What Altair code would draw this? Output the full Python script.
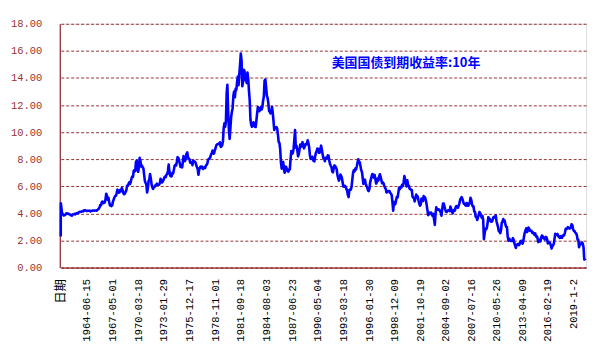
import altair as alt
import pandas as pd

# ---- data (10y US Treasury yield, %) ----
start_dates = ["1962-01-02", "1962-01-05"]
start_values = [2.3, 4.75]

first_month = "1962-01"
yield_monthly = [
    4.08, 4.04, 3.93, 3.84, 3.87, 3.91, 4.01, 3.98, 3.98, 3.93, 3.92, 3.86,  # 1962
    3.83, 3.92, 3.93, 3.97, 3.93, 3.99, 4.02, 4.00, 4.08, 4.11, 4.12, 4.13,  # 1963
    4.17, 4.15, 4.22, 4.23, 4.20, 4.17, 4.19, 4.19, 4.20, 4.19, 4.15, 4.18,  # 1964
    4.19, 4.21, 4.21, 4.20, 4.21, 4.21, 4.20, 4.25, 4.29, 4.35, 4.45, 4.62,  # 1965
    4.61, 4.83, 4.87, 4.75, 4.78, 4.81, 5.02, 5.45, 5.30, 5.01, 5.16, 4.84,  # 1966
    4.58, 4.63, 4.54, 4.59, 4.85, 5.02, 5.16, 5.28, 5.30, 5.48, 5.75, 5.70,  # 1967
    5.53, 5.56, 5.74, 5.64, 5.87, 5.72, 5.50, 5.42, 5.46, 5.58, 5.70, 6.03,  # 1968
    6.04, 6.19, 6.30, 6.17, 6.32, 6.57, 6.72, 6.69, 7.16, 7.10, 7.14, 7.80,  # 1969
    7.90, 7.24, 7.07, 7.39, 8.10, 7.90, 7.46, 7.53, 7.39, 7.33, 6.84, 6.39,  # 1970
    6.24, 6.11, 5.55, 5.83, 6.39, 6.52, 6.90, 6.58, 6.14, 5.93, 5.81, 5.93,  # 1971
    5.95, 6.08, 6.07, 6.19, 6.13, 6.11, 6.11, 6.21, 6.55, 6.48, 6.28, 6.36,  # 1972
    6.46, 6.64, 6.71, 6.67, 6.85, 6.90, 7.13, 7.60, 7.09, 6.79, 6.73, 6.74,  # 1973
    6.99, 6.96, 7.21, 7.51, 7.58, 7.54, 7.81, 8.15, 8.10, 7.90, 7.68, 7.43,  # 1974
    7.50, 7.39, 7.73, 8.23, 8.06, 7.86, 8.06, 8.40, 8.50, 8.14, 8.05, 8.00,  # 1975
    7.74, 7.79, 7.73, 7.56, 7.90, 7.86, 7.83, 7.77, 7.59, 7.41, 7.29, 6.85,  # 1976
    7.21, 7.39, 7.46, 7.37, 7.46, 7.28, 7.33, 7.40, 7.34, 7.52, 7.58, 7.69,  # 1977
    7.96, 8.03, 8.04, 8.15, 8.35, 8.46, 8.64, 8.41, 8.42, 8.64, 8.81, 9.01,  # 1978
    9.10, 9.10, 9.12, 9.18, 9.25, 8.91, 8.95, 9.03, 9.33, 10.30, 10.65, 10.39,  # 1979
    10.80, 12.90, 13.50, 11.50, 10.20, 9.50, 10.25, 11.10, 11.51, 11.75, 12.68, 13.00,  # 1980
    12.57, 13.19, 13.12, 13.68, 14.10, 13.47, 14.28, 14.94, 15.80, 15.30, 13.39, 13.72,  # 1981
    14.60, 14.50, 13.86, 13.87, 13.62, 14.40, 13.95, 13.06, 12.34, 10.91, 10.55, 10.40,  # 1982
    10.46, 10.72, 10.51, 10.40, 10.38, 10.85, 11.38, 11.85, 11.65, 11.54, 11.69, 11.83,  # 1983
    11.67, 11.84, 12.32, 12.63, 13.80, 13.90, 13.36, 12.72, 12.52, 12.16, 11.57, 11.50,  # 1984
    11.38, 11.51, 11.86, 11.43, 10.85, 10.16, 10.31, 10.33, 10.37, 10.24, 9.78, 9.26,  # 1985
    9.19, 8.70, 7.78, 7.30, 7.71, 7.80, 7.30, 7.00, 7.45, 7.43, 7.25, 7.11,  # 1986
    7.08, 7.25, 7.25, 8.02, 8.61, 8.40, 8.45, 8.76, 9.42, 10.15, 8.86, 8.99,  # 1987
    8.67, 8.21, 8.37, 8.72, 9.09, 8.92, 9.06, 9.26, 8.98, 8.80, 8.96, 9.11,  # 1988
    9.09, 9.17, 9.40, 9.18, 8.86, 8.28, 8.02, 8.11, 8.19, 8.01, 7.87, 7.84,  # 1989
    8.21, 8.47, 8.59, 8.79, 8.76, 8.48, 8.47, 8.75, 9.00, 8.72, 8.39, 8.08,  # 1990
    8.09, 7.85, 8.11, 8.04, 8.07, 8.28, 8.27, 7.90, 7.65, 7.53, 7.42, 7.09,  # 1991
    7.03, 7.34, 7.54, 7.48, 7.39, 7.26, 6.84, 6.59, 6.42, 6.59, 6.87, 6.77,  # 1992
    6.60, 6.26, 5.98, 5.97, 6.04, 5.96, 5.81, 5.68, 5.36, 5.20, 5.72, 5.77,  # 1993
    5.75, 5.97, 6.48, 6.97, 7.18, 7.10, 7.30, 7.24, 7.46, 7.74, 8.00, 7.81,  # 1994
    7.78, 7.47, 7.20, 7.06, 6.63, 6.17, 6.28, 6.49, 6.20, 6.04, 5.93, 5.71,  # 1995
    5.65, 5.81, 6.27, 6.51, 6.74, 6.91, 6.87, 6.64, 6.83, 6.53, 6.20, 6.30,  # 1996
    6.58, 6.42, 6.69, 6.89, 6.71, 6.49, 6.22, 6.30, 6.21, 6.03, 5.88, 5.81,  # 1997
    5.54, 5.57, 5.65, 5.64, 5.65, 5.50, 5.46, 5.34, 4.81, 4.20, 4.83, 4.65,  # 1998
    4.72, 5.00, 5.23, 5.18, 5.54, 5.90, 5.79, 5.94, 5.92, 6.11, 6.03, 6.28,  # 1999
    6.75, 6.52, 6.26, 5.99, 6.44, 6.10, 6.05, 5.83, 5.80, 5.74, 5.72, 5.24,  # 2000
    5.16, 5.10, 4.89, 5.14, 5.39, 5.28, 5.24, 4.97, 4.73, 4.57, 4.65, 5.09,  # 2001
    5.04, 4.91, 5.28, 5.21, 5.16, 4.93, 4.65, 4.26, 3.87, 3.94, 4.05, 4.03,  # 2002
    4.05, 3.90, 3.81, 3.96, 3.57, 3.15, 3.98, 4.45, 4.27, 4.29, 4.30, 4.27,  # 2003
    4.15, 4.08, 3.83, 4.35, 4.72, 4.73, 4.50, 4.28, 4.13, 4.10, 4.19, 4.23,  # 2004
    4.22, 4.17, 4.50, 4.34, 4.14, 4.00, 4.18, 4.26, 4.20, 4.46, 4.54, 4.47,  # 2005
    4.42, 4.57, 4.72, 4.99, 5.11, 5.20, 5.09, 4.88, 4.72, 4.73, 4.60, 4.56,  # 2006
    4.76, 4.72, 4.56, 4.69, 4.75, 5.15, 5.00, 4.67, 4.52, 4.53, 4.15, 4.10,  # 2007
    3.74, 3.74, 3.51, 3.68, 3.88, 4.10, 4.01, 3.89, 3.69, 3.81, 3.53, 2.10,  # 2008
    2.52, 2.87, 2.82, 2.93, 3.29, 3.72, 3.56, 3.59, 3.40, 3.39, 3.40, 3.59,  # 2009
    3.73, 3.69, 3.73, 3.85, 3.42, 3.20, 3.01, 2.70, 2.65, 2.54, 2.76, 3.29,  # 2010
    3.39, 3.58, 3.41, 3.46, 3.17, 3.00, 3.00, 2.30, 1.98, 2.15, 2.01, 1.98,  # 2011
    1.97, 1.97, 2.17, 2.05, 1.80, 1.62, 1.45, 1.68, 1.72, 1.75, 1.65, 1.72,  # 2012
    1.91, 1.98, 1.96, 1.76, 1.93, 2.30, 2.58, 2.74, 2.90, 2.62, 2.72, 2.95,  # 2013
    2.86, 2.71, 2.72, 2.71, 2.56, 2.60, 2.54, 2.42, 2.53, 2.30, 2.33, 2.21,  # 2014
    1.88, 1.98, 2.04, 1.94, 2.20, 2.36, 2.32, 2.17, 2.17, 2.07, 2.26, 2.24,  # 2015
    2.09, 1.78, 1.89, 1.81, 1.81, 1.64, 1.40, 1.56, 1.63, 1.76, 2.14, 2.49,  # 2016
    2.43, 2.42, 2.48, 2.30, 2.30, 2.19, 2.32, 2.21, 2.20, 2.36, 2.35, 2.40,  # 2017
    2.58, 2.86, 2.84, 2.87, 2.98, 2.91, 2.89, 2.89, 3.00, 3.20, 3.12, 2.83,  # 2018
    2.71, 2.68, 2.57, 2.53, 2.40, 2.07, 2.06, 1.50, 1.70, 1.71, 1.81, 1.86,  # 2019
    1.76, 1.50, 0.60, 0.62, 0.66,                                            # 2020
]

tick_dates = ["1962-01-02", "1964-06-15", "1967-05-01", "1970-03-18", "1973-01-29",
              "1975-12-17", "1978-11-01", "1981-09-18", "1984-08-03", "1987-06-23",
              "1990-05-04", "1993-03-18", "1996-01-30", "1998-12-09", "2001-10-19",
              "2004-09-02", "2007-07-16", "2010-05-26", "2013-04-09", "2016-02-19",
              "2019-01-02"]
tick_labels = ["日期", "1964-06-15", "1967-05-01", "1970-03-18", "1973-01-29",
               "1975-12-17", "1978-11-01", "1981-09-18", "1984-08-03", "1987-06-23",
               "1990-05-04", "1993-03-18", "1996-01-30", "1998-12-09", "2001-10-19",
               "2004-09-02", "2007-07-16", "2010-05-26", "2013-04-09", "2016-02-19",
               "2019-1-2"]
y_ticks = [0, 2, 4, 6, 8, 10, 12, 14, 16, 18]
series_name = "美国国债到期收益率:10年"

# ---- build table ----
monthly_dates = pd.date_range(first_month + "-01", periods=len(yield_monthly), freq="MS") + pd.Timedelta(days=14)
df = pd.DataFrame({
    "date": list(start_dates) + [d.strftime("%Y-%m-%d") for d in monthly_dates[1:]],
    "value": list(start_values) + list(yield_monthly[1:]),
})


def ms(s):
    return int(pd.Timestamp(s, tz="UTC").value // 10**6)


label_expr = ""
for d, l in zip(tick_dates, tick_labels):
    label_expr += f"utcFormat(datum.value,'%Y-%m-%d')=='{d}' ? '{l}' : "
label_expr += "''"

W, H = 529, 245
GRID = "#993333"
AXIS = "#800000"

x_enc = alt.X(
    "t:Q",
    scale=alt.Scale(domain=[ms("1962-01-02"), ms("1964-06-15"), ms("2020-05-29")],
                    range=[1, 27.3, W], nice=False, zero=False),
    axis=alt.Axis(
        values=[ms(d) for d in tick_dates],
        labelExpr=label_expr,
        labelAngle=-90,
        labelFont="Liberation Mono, Noto Sans CJK SC",
        labelFontSize={"condition": {"test": "utcFormat(datum.value,'%Y-%m-%d')=='1962-01-02'", "value": 12.5}, "value": 10.5},
        labelColor="#000000",
        labelPadding=11,
        ticks=False,
        tickSize=0,
        grid=False,
        domainColor=AXIS,
        title=None,
        labelOverlap=False,
        labelBound=False,
        labelFlush=False,
    ),
)

y_enc = alt.Y(
    "value:Q",
    scale=alt.Scale(domain=[0, 18], nice=False, zero=True),
    axis=alt.Axis(
        values=y_ticks,
        format=".2f",
        labelFont="Liberation Mono",
        labelFontSize=10.5,
        labelColor=GRID,
        labelPadding=18,
        ticks=False,
        tickSize=0,
        grid=True,
        gridColor=GRID,
        gridDash=[3, 2],
        gridWidth=1,
        domainColor=AXIS,
        title=None,
        minExtent=44,
        maxExtent=44,
    ),
)

line = alt.Chart(df).transform_calculate(
    t="time(toDate(datum.date))"
).mark_line(color="#0000FF", strokeWidth=2.6, strokeJoin="round").encode(
    x=x_enc, y=y_enc
)

label = alt.Chart(pd.DataFrame({"s": [series_name]})).mark_text(
    font="Noto Sans CJK SC", fontSize=13, fontWeight="bold", color="#0000FF",
    align="center", baseline="middle",
).encode(text="s:N", x=alt.value(348), y=alt.value(39))

chart = alt.layer(line, label).properties(
    width=W, height=H, padding={"left": 2, "top": 10, "right": 15, "bottom": 5}
).configure_view(
    stroke=GRID, strokeWidth=1
).configure(background="#FFFFFF")

chart.save("out.html", embed_options={"renderer": "svg", "actions": False})
